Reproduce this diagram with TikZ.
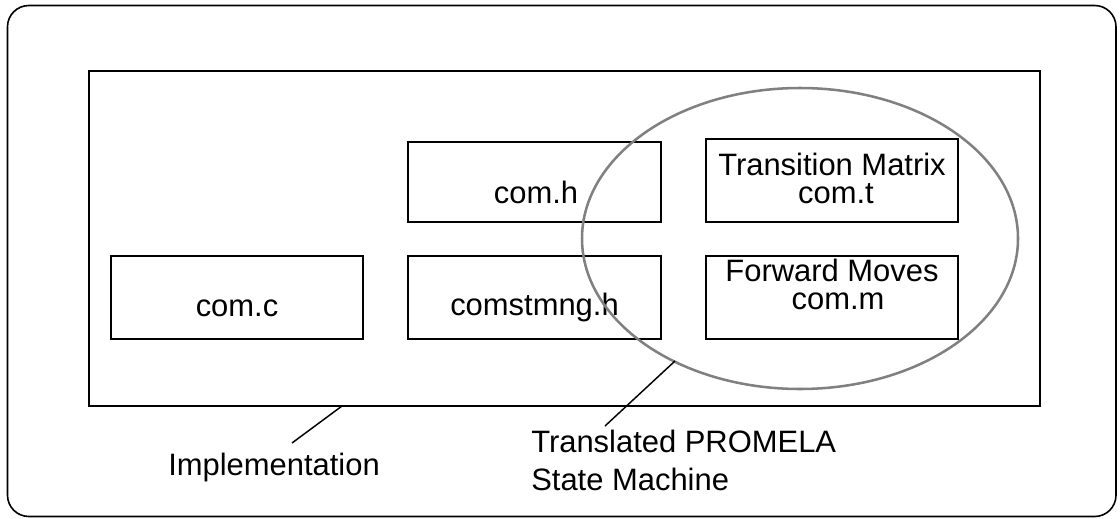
\documentclass[tikz,border=0pt]{standalone}
\usepackage{fontspec}
\setmainfont{Liberation Sans}
\begin{document}
\begin{tikzpicture}[x=0.75pt,y=-0.75pt,
  frame/.style={draw, line width=1.2pt, rounded corners=16pt},
  impl/.style={draw, line width=2.2pt},
  filebox/.style={draw, line width=1.1pt},
  txt/.style={font=\fontsize{23.2}{19}\selectfont, inner sep=0pt, anchor=base},
  lbl/.style={font=\fontsize{23.2}{28.5}\selectfont, inner sep=0pt, anchor=base west, align=left},
  leader/.style={draw, line width=1.1pt},
  machine/.style={draw=black!50, line width=1.9pt}]
\useasboundingbox (0,0) rectangle (1120,518);
% outer frame
\draw[frame] (7.5,5.5) rectangle (1116,516.5);
% implementation rectangle
\draw[impl] (89,71) rectangle (1040,406);
\coordinate (implTop) at (342,406);
% file boxes
\draw[filebox] (408,142) rectangle (661,222);
\node[txt] (comh) at (536,203) {com.h};
\draw[filebox] (706,139) rectangle (958,222);
\node[txt] (trans) at (832,175) {Transition Matrix};
\node[txt] (comt) at (836,203) {com.t};
\draw[filebox] (111,256) rectangle (363,339);
\node[txt] (comc) at (237,316) {com.c};
\draw[filebox] (408,256) rectangle (661,339);
\node[txt] (comst) at (534.5,315.5) {comstmng.h};
\draw[filebox] (706,256) rectangle (958,339);
\node[txt] (fwd) at (832,281) {Forward Moves};
\node[txt] (comm) at (838,309) {com.m};
% state machine ellipse
\draw[machine] (800,238.5) ellipse [x radius=218, y radius=150.5];
\coordinate (smPt) at (675,361);
% labels
\node[lbl] (implLbl) at (168,475) {Implementation};
\coordinate (implEnd) at (292,443);
\node[lbl, anchor=north west] (smLbl) at (531,430) {Translated PROMELA\\State Machine};
\coordinate (smEnd) at (605,426);
\draw[leader] (implTop) -- (implEnd);
\draw[leader] (smPt) -- (smEnd);
\end{tikzpicture}
\end{document}
